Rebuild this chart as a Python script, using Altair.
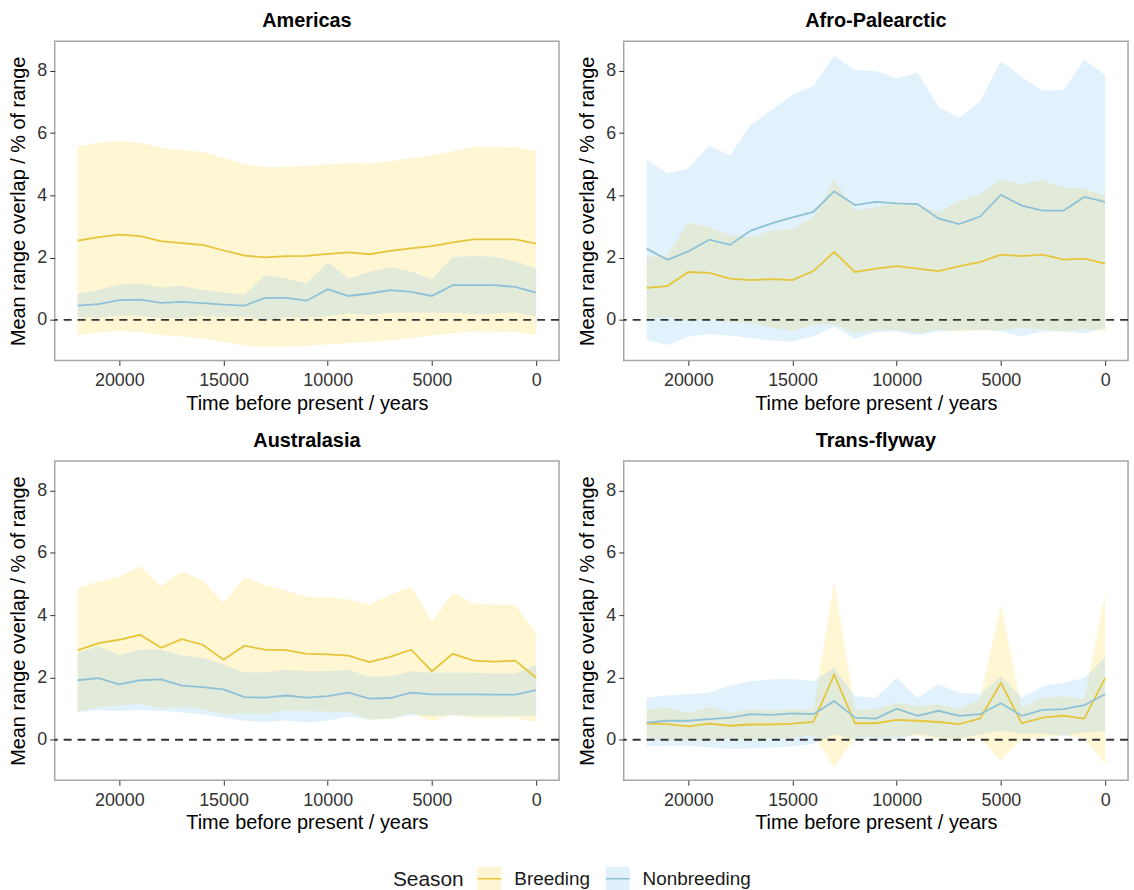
import altair as alt
import pandas as pd

FONT = "Liberation Sans"

years = [22000, 21000, 20000, 19000, 18000, 17000, 16000, 15000, 14000, 13000, 12000,
         11000, 10000, 9000, 8000, 7000, 6000, 5000, 4000, 3000, 2000, 1000, 0]
regions = ["Americas", "Afro-Palearctic", "Australasia", "Trans-flyway"]
seasons = ["Breeding", "Nonbreeding"]

# ---- Americas ----
am_br_mean = [2.55, 2.66, 2.74, 2.69, 2.53, 2.47, 2.41, 2.23, 2.07, 2.01, 2.05, 2.06,
              2.12, 2.17, 2.11, 2.22, 2.30, 2.37, 2.49, 2.59, 2.59, 2.59, 2.45]
am_br_hi = [5.58, 5.69, 5.74, 5.69, 5.53, 5.45, 5.39, 5.21, 5.00, 4.91, 4.92, 4.94,
            5.00, 5.03, 5.02, 5.10, 5.19, 5.28, 5.42, 5.56, 5.56, 5.55, 5.42]
am_br_lo = [-0.48, -0.40, -0.35, -0.39, -0.48, -0.53, -0.60, -0.71, -0.82, -0.87, -0.85, -0.83,
            -0.78, -0.74, -0.71, -0.65, -0.58, -0.50, -0.43, -0.37, -0.37, -0.38, -0.48]
am_nb_mean = [0.46, 0.51, 0.64, 0.65, 0.55, 0.58, 0.54, 0.49, 0.46, 0.71, 0.71, 0.62,
              0.99, 0.77, 0.85, 0.96, 0.90, 0.77, 1.12, 1.12, 1.12, 1.06, 0.88]
am_nb_hi = [0.83, 0.96, 1.14, 1.17, 1.04, 1.10, 0.96, 0.88, 0.82, 1.44, 1.33, 1.17,
            1.86, 1.33, 1.54, 1.70, 1.56, 1.31, 2.02, 2.05, 2.03, 1.88, 1.65]
am_nb_lo = [0.09, 0.06, 0.14, 0.13, 0.06, 0.06, 0.12, 0.10, 0.10, -0.02, 0.09, 0.07,
            0.12, 0.21, 0.16, 0.22, 0.24, 0.23, 0.22, 0.19, 0.21, 0.24, 0.11]

# ---- Afro-Palearctic ----
ap_br_mean = [1.03, 1.09, 1.54, 1.51, 1.33, 1.28, 1.31, 1.28, 1.57, 2.18, 1.54, 1.65,
              1.73, 1.65, 1.57, 1.73, 1.86, 2.10, 2.05, 2.10, 1.94, 1.97, 1.81]
ap_br_hi = [2.02, 2.07, 3.13, 2.98, 2.73, 2.66, 2.87, 2.92, 3.29, 4.50, 3.51, 3.61,
            3.77, 3.72, 3.45, 3.83, 4.04, 4.52, 4.36, 4.50, 4.25, 4.22, 3.98]
ap_br_lo = [0.04, 0.11, -0.05, 0.04, -0.07, -0.10, -0.25, -0.36, -0.15, -0.14, -0.43, -0.31,
            -0.31, -0.42, -0.31, -0.37, -0.32, -0.32, -0.26, -0.30, -0.37, -0.28, -0.36]
ap_nb_mean = [2.29, 1.93, 2.20, 2.58, 2.41, 2.87, 3.10, 3.29, 3.47, 4.13, 3.69, 3.79,
              3.74, 3.72, 3.26, 3.08, 3.32, 4.02, 3.67, 3.51, 3.51, 3.95, 3.79]
ap_nb_hi = [5.15, 4.70, 4.86, 5.60, 5.28, 6.27, 6.75, 7.23, 7.51, 8.48, 8.02, 7.99,
            7.76, 7.94, 6.85, 6.48, 7.01, 8.31, 7.81, 7.36, 7.38, 8.36, 7.86]
ap_nb_lo = [-0.64, -0.80, -0.53, -0.46, -0.50, -0.58, -0.67, -0.69, -0.53, -0.21, -0.61, -0.39,
            -0.37, -0.50, -0.37, -0.32, -0.32, -0.37, -0.53, -0.37, -0.37, -0.43, -0.27]

# ---- Australasia ----
au_br_mean = [2.87, 3.10, 3.21, 3.37, 2.95, 3.23, 3.05, 2.57, 3.02, 2.89, 2.88, 2.76,
              2.74, 2.70, 2.49, 2.66, 2.89, 2.20, 2.76, 2.54, 2.51, 2.54, 1.99]
au_br_hi = [4.86, 5.07, 5.23, 5.57, 4.93, 5.39, 5.12, 4.40, 5.21, 4.97, 4.78, 4.59,
            4.57, 4.51, 4.33, 4.65, 4.93, 3.80, 4.72, 4.38, 4.33, 4.33, 3.42]
au_br_lo = [0.90, 1.05, 1.10, 1.15, 1.00, 1.05, 0.98, 0.80, 0.85, 0.82, 0.95, 0.92,
            0.90, 0.88, 0.65, 0.67, 0.85, 0.60, 0.80, 0.70, 0.69, 0.72, 0.56]
au_nb_mean = [1.91, 1.98, 1.78, 1.91, 1.94, 1.74, 1.69, 1.62, 1.37, 1.35, 1.42, 1.35,
              1.40, 1.51, 1.32, 1.34, 1.51, 1.46, 1.46, 1.46, 1.45, 1.45, 1.59]
au_nb_hi = [2.79, 3.00, 2.73, 2.89, 2.89, 2.70, 2.63, 2.41, 2.17, 2.17, 2.25, 2.20,
            2.20, 2.25, 2.02, 2.04, 2.20, 2.15, 2.15, 2.15, 2.13, 2.13, 2.41]
au_nb_lo = [0.89, 0.95, 0.92, 0.95, 0.93, 0.88, 0.82, 0.71, 0.61, 0.57, 0.62, 0.55,
            0.62, 0.75, 0.64, 0.68, 0.79, 0.77, 0.79, 0.77, 0.77, 0.77, 0.77]

# ---- Trans-flyway ----
tf_br_mean = [0.52, 0.50, 0.43, 0.52, 0.45, 0.49, 0.49, 0.52, 0.57, 2.09, 0.53, 0.53,
              0.64, 0.61, 0.57, 0.50, 0.68, 1.83, 0.53, 0.71, 0.77, 0.68, 1.98]
tf_br_hi = [0.98, 1.03, 0.87, 1.06, 0.87, 0.98, 0.93, 0.98, 0.98, 5.07, 0.98, 0.98,
            1.19, 1.08, 1.14, 0.98, 1.30, 4.33, 1.03, 1.35, 1.40, 1.30, 4.70]
tf_br_lo = [0.06, -0.03, -0.01, -0.02, 0.03, 0.00, 0.05, 0.06, 0.14, -0.88, 0.08, 0.08,
            0.09, 0.14, 0.00, 0.02, 0.06, -0.67, 0.03, 0.07, 0.14, 0.06, -0.78]
tf_nb_mean = [0.55, 0.61, 0.61, 0.66, 0.71, 0.82, 0.80, 0.85, 0.82, 1.24, 0.71, 0.68,
              1.00, 0.77, 0.93, 0.77, 0.82, 1.17, 0.77, 0.96, 0.98, 1.11, 1.46]
tf_nb_hi = [1.35, 1.42, 1.46, 1.51, 1.74, 1.88, 1.94, 1.94, 1.88, 2.31, 1.40, 1.35,
            1.99, 1.35, 1.78, 1.51, 1.46, 2.04, 1.35, 1.72, 1.83, 1.99, 2.63]
tf_nb_lo = [-0.21, -0.19, -0.19, -0.24, -0.30, -0.28, -0.25, -0.22, -0.14, 0.17, 0.02, 0.01,
            0.01, 0.19, 0.08, 0.03, 0.18, 0.30, 0.19, 0.20, 0.13, 0.23, 0.29]

series = [
    ("Americas", "Breeding", am_br_mean, am_br_lo, am_br_hi),
    ("Americas", "Nonbreeding", am_nb_mean, am_nb_lo, am_nb_hi),
    ("Afro-Palearctic", "Breeding", ap_br_mean, ap_br_lo, ap_br_hi),
    ("Afro-Palearctic", "Nonbreeding", ap_nb_mean, ap_nb_lo, ap_nb_hi),
    ("Australasia", "Breeding", au_br_mean, au_br_lo, au_br_hi),
    ("Australasia", "Nonbreeding", au_nb_mean, au_nb_lo, au_nb_hi),
    ("Trans-flyway", "Breeding", tf_br_mean, tf_br_lo, tf_br_hi),
    ("Trans-flyway", "Nonbreeding", tf_nb_mean, tf_nb_lo, tf_nb_hi),
]

rows = []
for region, season, mean, lo, hi in series:
    for yr, m, l, h in zip(years, mean, lo, hi):
        rows.append({"region": region, "season": season, "season_line": season,
                     "year": yr, "mean": m, "lo": l, "hi": h})
df = pd.DataFrame(rows)
zero_df = pd.DataFrame({"zero": [0]})

x_ticks = [20000, 15000, 10000, 5000, 0]
y_ticks = [0, 2, 4, 6, 8]

LEG_X = 340
LEG_Y = 829

common_leg = dict(orient="none", legendX=LEG_X, legendY=LEG_Y, direction="horizontal",
                  title="Season", titleOrient="left", titleFontSize=21, titleFontWeight="normal",
                  titleFont=FONT, titleColor="#1a1a1a", titlePadding=12,
                  labelFontSize=19, labelFont=FONT, labelColor="#1a1a1a",
                  labelOffset=12, columnPadding=12, symbolSize=576, symbolStrokeWidth=1.5)

fill_scale = alt.Scale(range=["#FFD53C", "#7CC3F0"])
stroke_scale = alt.Scale(range=["#E5C53A", "#8EC1D6"])


def panel(region):
    base = alt.Chart(df).transform_filter(alt.datum.region == region)
    x = alt.X("year:Q",
              scale=alt.Scale(domain=[-1100, 23100], reverse=True, nice=False, zero=False),
              axis=alt.Axis(values=x_ticks, title="Time before present / years", format="d",
                            labelPadding=6, titlePadding=4))
    y_axis = alt.Axis(values=y_ticks, title="Mean range overlap / % of range")
    y_scale = alt.Scale(domain=[-1.3, 8.95], nice=False, zero=False)

    band = base.mark_area(opacity=0.22).encode(
        x=x,
        y=alt.Y("lo:Q", scale=y_scale, axis=y_axis),
        y2="hi:Q",
        fill=alt.Fill("season:N", scale=fill_scale,
                      legend=alt.Legend(symbolType="square", symbolOpacity=0.22,
                                        symbolStrokeColor="transparent", **common_leg)),
    )
    line = base.mark_line(strokeWidth=1.8).encode(
        x=x,
        y=alt.Y("mean:Q", scale=y_scale, axis=y_axis),
        stroke=alt.Stroke("season_line:N", scale=stroke_scale,
                          legend=alt.Legend(symbolType="stroke", labelOpacity=0,
                                            titleOpacity=0, **common_leg)),
    )
    rule = alt.Chart(zero_df).mark_rule(color="#333333", strokeDash=[8, 6], strokeWidth=1.8).encode(
        y=alt.Y("zero:Q", scale=y_scale, axis=y_axis)
    )
    return alt.layer(band, line, rule).properties(
        width=507, height=321,
        title=alt.TitleParams(region, fontSize=20, fontWeight="bold", font=FONT,
                              color="#000000", anchor="middle", offset=10),
    )


top = alt.hconcat(panel(regions[0]), panel(regions[1]), spacing=16)
bottom = alt.hconcat(panel(regions[2]), panel(regions[3]), spacing=16)

chart = alt.vconcat(top, bottom, spacing=16).properties(
    padding={"left": 8, "top": 8, "right": 4, "bottom": 4}
).configure(
    background="white"
).configure_view(
    stroke="#A6A6A6", strokeWidth=1.5
).configure_axis(
    grid=False, domain=False, labelFont=FONT, titleFont=FONT,
    labelFontSize=18, titleFontSize=20, labelColor="#333333", titleColor="#000000",
    titleFontWeight="normal", tickColor="#333333", tickSize=5, tickWidth=1,
    labelPadding=3, titlePadding=8
).configure_legend(
    titleFontSize=21, labelFontSize=19, titleFont=FONT, labelFont=FONT
).configure_title(
    fontSize=20, font=FONT
)

chart.save("out.html", embed_options={"renderer": "svg", "actions": False})
